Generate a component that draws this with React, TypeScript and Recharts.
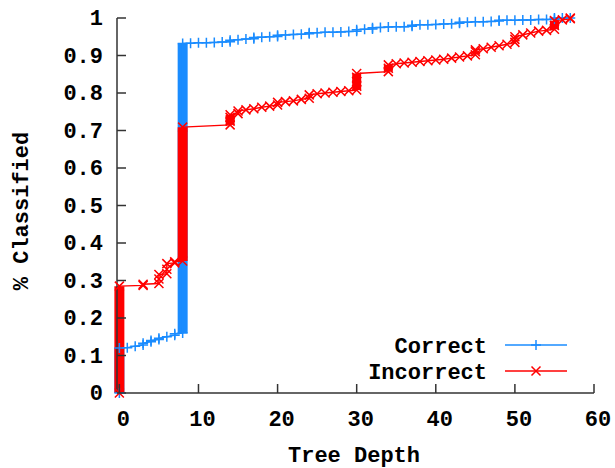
import React from 'react';
import {Line, LineChart, XAxis, YAxis} from 'recharts';

const xTicks = [0, 10, 20, 30, 40, 50, 60];
const yTicks = [0, 0.1, 0.2, 0.3, 0.4, 0.5, 0.6, 0.7, 0.8, 0.9, 1];

// [tree depth, fraction classified]
const correctPoints: [number, number][] = [
    [0, 0], [0, 0.12], [1, 0.121], [2, 0.125], [3, 0.128], [3, 0.133], [4, 0.137], [4, 0.14],
    [5, 0.143], [5, 0.146], [6, 0.15], [7, 0.154], [7, 0.158], [8, 0.16], [8, 0.932],
    [9, 0.933], [10, 0.934], [11, 0.934], [12, 0.935], [13, 0.936], [14, 0.937], [14, 0.941],
    [15, 0.942], [16, 0.944], [17, 0.945], [17, 0.948], [18, 0.949], [19, 0.95], [20, 0.951],
    [20, 0.954], [21, 0.955], [22, 0.956], [23, 0.957], [24, 0.958], [24, 0.961], [25, 0.961],
    [26, 0.962], [27, 0.962], [28, 0.963], [29, 0.964], [30, 0.965], [30, 0.969], [31, 0.97],
    [32, 0.971], [32, 0.974], [33, 0.975], [34, 0.976], [35, 0.977], [36, 0.977], [37, 0.978],
    [37, 0.981], [38, 0.982], [39, 0.982], [40, 0.983], [41, 0.984], [42, 0.985], [43, 0.986],
    [43, 0.989], [44, 0.989], [45, 0.99], [46, 0.99], [47, 0.991], [48, 0.992], [48, 0.994],
    [49, 0.994], [50, 0.994], [51, 0.995], [52, 0.995], [53, 0.996], [54, 0.996], [55, 0.997],
    [55, 1], [56, 1], [57, 1],
];

const incorrectPoints: [number, number][] = [
    [0, 0], [0, 0.285], [3, 0.287], [3, 0.29], [5, 0.292], [5, 0.304], [5, 0.316], [6, 0.318],
    [6, 0.33], [6, 0.345], [7, 0.347], [7, 0.35], [8, 0.352], [8, 0.709], [14, 0.715],
    [14, 0.725], [14, 0.735], [14, 0.742], [15, 0.745], [15, 0.752], [16, 0.755], [17, 0.758],
    [18, 0.762], [19, 0.765], [20, 0.768], [20, 0.775], [21, 0.777], [22, 0.779], [23, 0.783],
    [24, 0.786], [24, 0.795], [25, 0.798], [26, 0.8], [27, 0.802], [28, 0.804], [29, 0.806],
    [30, 0.808], [30, 0.818], [30, 0.83], [30, 0.842], [30, 0.852], [34, 0.857], [34, 0.866],
    [34, 0.875], [35, 0.878], [36, 0.88], [37, 0.882], [38, 0.884], [39, 0.886], [40, 0.888],
    [41, 0.89], [42, 0.893], [43, 0.896], [44, 0.899], [45, 0.902], [45, 0.91], [45, 0.915],
    [46, 0.918], [47, 0.922], [48, 0.926], [49, 0.93], [50, 0.935], [50, 0.943], [50, 0.95],
    [51, 0.955], [52, 0.96], [53, 0.965], [54, 0.967], [55, 0.97], [55, 0.98], [55, 0.993],
    [56, 0.995], [57, 0.998], [57, 1],
];

// columns of stacked markers: [depth, from, to]
const correctColumns: [number, number, number][] = [[0, 0, 0.12], [8, 0.16, 0.932]];
const incorrectColumns: [number, number, number][] = [
    [0, 0, 0.285], [8, 0.352, 0.709], [14, 0.715, 0.742], [30, 0.808, 0.852], [34, 0.857, 0.875],
    [55, 0.97, 0.993],
];

const BLUE = '#1a8cff';
const RED = '#ff0000';
const FONT = "'Liberation Mono', 'Courier New', monospace";
const AXIS = '#333';

const toRows = (pts: [number, number][]) => pts.map(([depth, frac]) => ({depth, frac}));
const colRows = (c: [number, number, number]) => [{depth: c[0], frac: c[1]}, {depth: c[0], frac: c[2]}];

const plusPath = (cx: number, cy: number) => `M${cx - 5},${cy}h10M${cx},${cy - 5}v10`;
const crossPath = (cx: number, cy: number) => `M${cx - 4.5},${cy - 4.5}l9,9M${cx - 4.5},${cy + 4.5}l9,-9`;

const PlusDot = (props: any) => {
    const {cx, cy, index} = props;
    if (cx == null || cy == null) return <g key={index}/>;
    return <path key={index} d={plusPath(cx, cy)} stroke={BLUE} strokeWidth={1.5} fill="none"/>;
};

const CrossDot = (props: any) => {
    const {cx, cy, index} = props;
    if (cx == null || cy == null) return <g key={index}/>;
    return <path key={index} d={crossPath(cx, cy)} stroke={RED} strokeWidth={1.5} fill="none"/>;
};

const textStyle = {fontFamily: FONT, fontWeight: 'bold' as const, fontSize: 22, fill: '#000'};

const BottomTick = (props: any) => {
    const {x, y, payload} = props;
    return (
        <g>
            <line x1={x} y1={y} x2={x} y2={y - 9} stroke={AXIS} strokeWidth={1.5}/>
            <text x={x + 4} y={y + 33} textAnchor="middle" style={textStyle}>{payload.value}</text>
        </g>
    );
};

const TopTick = (props: any) => {
    const {x, y} = props;
    return <line x1={x} y1={y} x2={x} y2={y + 9} stroke={AXIS} strokeWidth={1.5}/>;
};

const LeftTick = (props: any) => {
    const {x, y, payload} = props;
    return (
        <g>
            <line x1={x} y1={y} x2={x + 9} y2={y} stroke={AXIS} strokeWidth={1.5}/>
            <text x={x - 14} y={y + 7} textAnchor="end" style={textStyle}>{payload.value}</text>
        </g>
    );
};

const RightTick = (props: any) => {
    const {x, y} = props;
    return <line x1={x} y1={y} x2={x - 9} y2={y} stroke={AXIS} strokeWidth={1.5}/>;
};

const App: React.FC = () => {
    return (
        <div style={{position: 'absolute', left: 0, top: 0, width: 615, height: 468}}>
            <LineChart width={615} height={468} margin={{top: 18, right: 21, bottom: 0, left: 0}}>
                <XAxis
                    dataKey="depth"
                    type="number"
                    domain={[-0.3, 60]}
                    ticks={xTicks}
                    interval={0}
                    height={75}
                    tickSize={0}
                    tickMargin={0}
                    tickLine={false}
                    axisLine={{stroke: AXIS, strokeWidth: 1.5}}
                    tick={<BottomTick/>}
                    label={{
                        content: () => (
                            <text x={354} y={462} textAnchor="middle" style={textStyle}>Tree Depth</text>
                        ),
                    }}
                />
                <XAxis
                    xAxisId="top"
                    orientation="top"
                    dataKey="depth"
                    type="number"
                    domain={[-0.3, 60]}
                    ticks={xTicks}
                    interval={0}
                    height={0}
                    tickSize={0}
                    tickMargin={0}
                    tickLine={false}
                    axisLine={{stroke: AXIS, strokeWidth: 1.5}}
                    tick={<TopTick/>}
                />
                <YAxis
                    type="number"
                    domain={[0, 1]}
                    ticks={yTicks}
                    interval={0}
                    width={117}
                    tickSize={0}
                    tickMargin={0}
                    tickLine={false}
                    axisLine={{stroke: AXIS, strokeWidth: 1.5}}
                    tick={<LeftTick/>}
                    label={{
                        content: () => (
                            <text x={28} y={211} textAnchor="middle" transform="rotate(-90, 28, 211)"
                                  style={textStyle}>% Classified</text>
                        ),
                    }}
                />
                <YAxis
                    yAxisId="right"
                    orientation="right"
                    type="number"
                    domain={[0, 1]}
                    ticks={yTicks}
                    interval={0}
                    width={0}
                    tickSize={0}
                    tickMargin={0}
                    tickLine={false}
                    axisLine={{stroke: AXIS, strokeWidth: 1.5}}
                    tick={<RightTick/>}
                />
                {correctColumns.map((c, i) => (
                    <Line key={`cc${i}`} data={colRows(c)} dataKey="frac" stroke={BLUE} strokeWidth={10}
                          dot={false} activeDot={false} isAnimationActive={false} legendType="none"/>
                ))}
                <Line data={toRows(correctPoints)} dataKey="frac" name="Correct" type="linear" stroke={BLUE}
                      strokeWidth={1.5} dot={PlusDot} activeDot={false} isAnimationActive={false}/>
                {incorrectColumns.map((c, i) => (
                    <Line key={`ic${i}`} data={colRows(c)} dataKey="frac" stroke={RED} strokeWidth={i < 2 ? 10 : 9}
                          dot={false} activeDot={false} isAnimationActive={false} legendType="none"/>
                ))}
                <Line data={toRows(incorrectPoints)} dataKey="frac" name="Incorrect" type="linear" stroke={RED}
                      strokeWidth={1.5} dot={CrossDot} activeDot={false} isAnimationActive={false}/>
            </LineChart>
            <svg width={615} height={468} style={{position: 'absolute', left: 0, top: 0, pointerEvents: 'none'}}>
                <text x={487} y={353} textAnchor="end" style={textStyle}>Correct</text>
                <line x1={505} y1={345} x2={567} y2={345} stroke={BLUE} strokeWidth={1.5}/>
                <path d={plusPath(536, 345)} stroke={BLUE} strokeWidth={1.5}/>
                <text x={487} y={379} textAnchor="end" style={textStyle}>Incorrect</text>
                <line x1={505} y1={371} x2={567} y2={371} stroke={RED} strokeWidth={1.5}/>
                <path d={crossPath(536, 371)} stroke={RED} strokeWidth={1.5}/>
            </svg>
        </div>
    );
};

export default App;
